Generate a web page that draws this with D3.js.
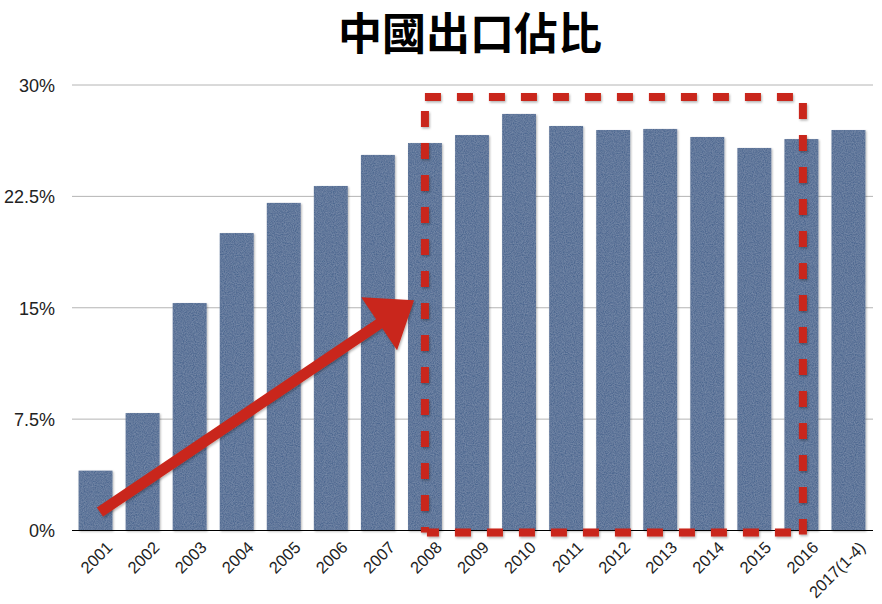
<!DOCTYPE html>
<html>
<head>
<meta charset="utf-8">
<script src="https://cdn.jsdelivr.net/npm/d3@7"></script>
<style>
  body { margin: 0; background: #fff; }
  svg text { font-family: "Helvetica Neue", "Liberation Sans", Arial, sans-serif; }
</style>
</head>
<body>
<div id="chart"></div>
<script>
// data
const years = ['2001', '2002', '2003', '2004', '2005', '2006', '2007', '2008', '2009',
  '2010', '2011', '2012', '2013', '2014', '2015', '2016', '2017(1-4)'];
const shares = [4.03, 7.91, 15.32, 20.03, 22.06, 23.2, 25.29, 26.09, 26.63,
  28.05, 27.24, 26.97, 27.04, 26.5, 25.76, 26.36, 26.97];
const yTicks = [0, 7.5, 15, 22.5, 30];
const title = '中國出口佔比';

// annotation: dashed box from 2008 to 2016, arrow from 2001 to 2008
const boxFrom = '2008', boxTo = '2016', boxTop = 29.2;
const arrowFrom = ['2001', 1.25], arrowTo = ['2008', 15.5];

const W = 882, H = 604;
const svg = d3.select('#chart').append('svg')
  .attr('width', W).attr('height', H);

const defs = svg.append('defs');
// denim-like noise for bars
const tex = defs.append('filter').attr('id', 'denim')
  .attr('x', '-10%').attr('y', '-5%').attr('width', '125%').attr('height', '110%');
tex.append('feTurbulence').attr('type', 'fractalNoise')
  .attr('baseFrequency', '0.9').attr('numOctaves', 2).attr('seed', 3).attr('result', 'noise');
tex.append('feColorMatrix').attr('in', 'noise').attr('type', 'matrix')
  .attr('values', '0 0 0 0 0.62  0 0 0 0 0.72  0 0 0 0 0.86  0 0 0 0.3 -0.06')
  .attr('result', 'speck');
tex.append('feComposite').attr('in', 'speck').attr('in2', 'SourceGraphic')
  .attr('operator', 'in').attr('result', 'specks');
tex.append('feGaussianBlur').attr('in', 'SourceAlpha').attr('stdDeviation', 1.2).attr('result', 'blur');
tex.append('feOffset').attr('in', 'blur').attr('dx', 1).attr('dy', 1).attr('result', 'off');
tex.append('feComponentTransfer').attr('in', 'off').attr('result', 'shadow')
  .append('feFuncA').attr('type', 'linear').attr('slope', 0.3);
const m = tex.append('feMerge');
m.append('feMergeNode').attr('in', 'shadow');
m.append('feMergeNode').attr('in', 'SourceGraphic');
m.append('feMergeNode').attr('in', 'specks');

const shadow = defs.append('filter').attr('id', 'shadow')
  .attr('x', '-10%').attr('y', '-10%').attr('width', '130%').attr('height', '130%');
shadow.append('feDropShadow').attr('dx', 1).attr('dy', 1.5)
  .attr('stdDeviation', 1.2).attr('flood-color', '#000').attr('flood-opacity', 0.3);

const x = d3.scaleBand().domain(years).range([72, 872])
  .paddingInner(0.28).paddingOuter(0.14);
const y = d3.scaleLinear().domain([0, 30]).range([530.5, 85]);

// title
svg.append('text')
  .attr('x', 470).attr('y', 50)
  .attr('text-anchor', 'middle')
  .style('font-family', '"Noto Sans CJK TC", "Noto Sans CJK SC", sans-serif')
  .style('font-size', '44px')
  .style('font-weight', 'bold')
  .text(title);

// grid lines
svg.append('g').selectAll('line')
  .data(yTicks.filter(d => d > 0))
  .join('line')
  .attr('x1', 72).attr('x2', 873)
  .attr('y1', d => y(d)).attr('y2', d => y(d))
  .attr('stroke', '#b4b4b4').attr('stroke-width', 1);

// y axis labels
const yaxis = d3.axisLeft(y).tickValues(yTicks)
  .tickFormat(d => d + '%').tickSize(0).tickPadding(17);
svg.append('g')
  .attr('transform', 'translate(72,0)')
  .call(yaxis)
  .call(g => g.select('.domain').remove())
  .call(g => g.selectAll('text')
    .attr('fill', '#222')
    .attr('font-size', 18)
    .attr('dy', '0.36em'));

// bars
svg.append('g').selectAll('rect')
  .data(years)
  .join('rect')
  .attr('x', d => x(d))
  .attr('width', x.bandwidth())
  .attr('y', (d, i) => y(shares[i]))
  .attr('height', (d, i) => y(0) - y(shares[i]))
  .attr('fill', '#4e6890')
  .attr('filter', 'url(#denim)');

// x axis
const xaxis = d3.axisBottom(x).tickSize(0);
svg.append('g')
  .attr('transform', `translate(0,${y(0)})`)
  .call(xaxis)
  .call(g => g.select('.domain').attr('d', 'M72,0H873').attr('stroke', '#000').attr('stroke-width', 1.2))
  .call(g => g.selectAll('text')
    .attr('fill', '#222')
    .attr('font-size', 16.5)
    .attr('text-anchor', 'end')
    .attr('x', 0).attr('y', 0).attr('dy', 0)
    .attr('transform', 'translate(18,18) rotate(-45)'));

// dashed red box
const bx0 = x(boxFrom) + x.bandwidth() / 2;
const bx1 = x(boxTo) + x.bandwidth() / 2 + 1.5;
const by0 = y(boxTop), by1 = y(0) + 2;
const ann = svg.append('g')
  .attr('fill', 'none')
  .attr('stroke', '#c9271a')
  .attr('stroke-width', 8)
  .attr('stroke-dasharray', '16,16')
  .attr('filter', 'url(#shadow)');
ann.append('path').attr('d', `M${bx0},${by0}H${bx1 - 8}`);
ann.append('path').attr('d', `M${bx1},${by0 + 6}V${by1 + 2}`);
ann.append('path').attr('d', `M${bx0 + 2},${by1}H${bx1}`).attr('stroke-dashoffset', 4);
ann.append('path').attr('d', `M${bx0},${by0 + 14}V${by1}`);

// red arrow
const ax0 = x(arrowFrom[0]) + x.bandwidth() * 0.63, ay0 = y(arrowFrom[1]);
const ax1 = x(arrowTo[0]) + 6, ay1 = y(arrowTo[1]);
const ang = Math.atan2(ay1 - ay0, ax1 - ax0);
const headLen = 42, headHalf = 32, shaft = 5.5;
const ux = Math.cos(ang), uy = Math.sin(ang), px = -uy, py = ux;
const bxh = ax1 - ux * headLen, byh = ay1 - uy * headLen;
const pts = [
  [ax0 + px * shaft, ay0 + py * shaft],
  [bxh + px * shaft, byh + py * shaft],
  [bxh + px * headHalf, byh + py * headHalf],
  [ax1, ay1],
  [bxh - px * headHalf, byh - py * headHalf],
  [bxh - px * shaft, byh - py * shaft],
  [ax0 - px * shaft, ay0 - py * shaft]
];
svg.append('path')
  .attr('d', d3.line()(pts) + 'Z')
  .attr('fill', '#c9271a')
  .attr('filter', 'url(#shadow)');
</script>
</body>
</html>
